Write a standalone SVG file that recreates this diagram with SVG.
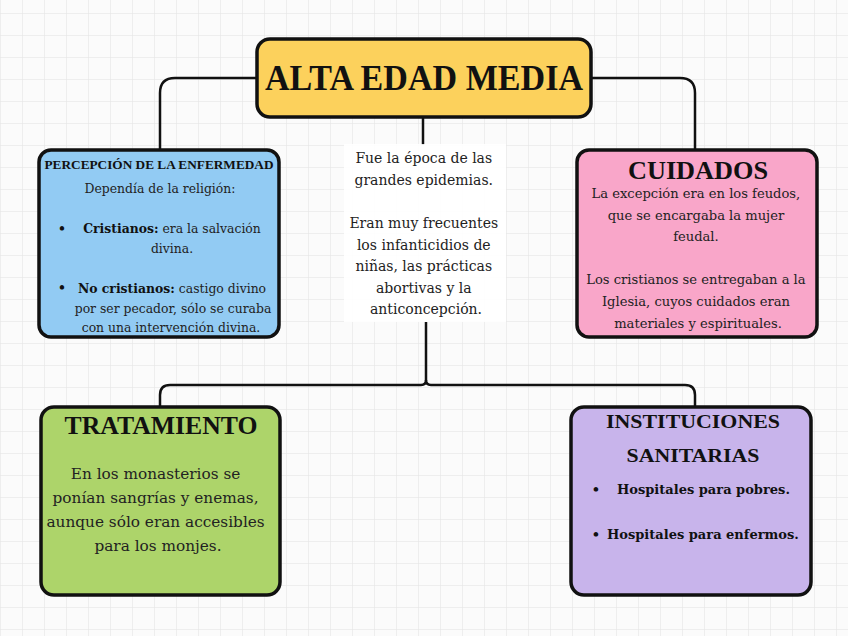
<svg xmlns="http://www.w3.org/2000/svg" width="848" height="636" viewBox="0 0 848 636">
  <defs>
    <pattern id="grid" width="22" height="22" patternUnits="userSpaceOnUse" x="0" y="13">
      <path d="M 22 0 L 0 0 0 22" fill="none" stroke="#e2e2e2" stroke-width="1"/>
    </pattern>
    <style>
      .box { stroke: #111; stroke-width: 3.5; }
      .conn { fill: none; stroke: #111; stroke-width: 2.5; }
      .t { font-family: "DejaVu Serif", "Liberation Serif", serif; fill: #222; text-anchor: middle; }
      .h { font-family: "Liberation Serif", "DejaVu Serif", serif; }
      .b { font-weight: bold; fill: #111; }
    </style>
  </defs>
  <rect x="0" y="0" width="848" height="636" fill="#fbfbfb"/>
  <rect x="0" y="0" width="848" height="636" fill="url(#grid)"/>

  <g id="connectors">
    <path class="conn" d="M 258 78 L 175 78 Q 160 78 160 93 L 160 151"/>
    <path class="conn" d="M 590 78 L 680 78 Q 695 78 695 93 L 695 151"/>
    <path class="conn" d="M 423 117 L 423 145"/>
    <path class="conn" d="M 426 322 L 426 380 Q 426 385 431 385 L 685 385 Q 695 385 695 395 L 695 407"/>
    <path class="conn" d="M 426 380 Q 426 385 421 385 L 170 385 Q 160 385 160 395 L 160 407"/>
  </g>

  <g id="title">
    <rect class="box" x="257" y="39" width="334" height="78" rx="13" fill="#fcd15c"/>
    <text class="t h b" x="424" y="90" font-size="35" textLength="318" lengthAdjust="spacingAndGlyphs">ALTA EDAD MEDIA</text>
  </g>

  <g id="center-note">
    <rect x="344" y="144" width="162" height="178" fill="#ffffff" opacity="0.9"/>
    <text class="t" font-size="14">
      <tspan x="426" y="163">Fue la época de las</tspan>
      <tspan x="426" y="185">grandes epidemias.</tspan>
      <tspan x="426" y="228">Eran muy frecuentes</tspan>
      <tspan x="426" y="250">los infanticidios de</tspan>
      <tspan x="426" y="271">niñas, las prácticas</tspan>
      <tspan x="426" y="293">abortivas y la</tspan>
      <tspan x="426" y="314">anticoncepción.</tspan>
    </text>
  </g>

  <g id="percepcion">
    <rect class="box" x="39" y="150" width="240" height="187" rx="12" fill="#92cbf3"/>
    <text class="t h b" x="159" y="169" font-size="12.5" textLength="229" lengthAdjust="spacingAndGlyphs">PERCEPCIÓN DE LA ENFERMEDAD</text>
    <text class="t" x="160" y="193" font-size="12.4">Dependía de la religión:</text>
    <text class="t b" x="62" y="233" font-size="12.4">•</text>
    <text class="t" x="172" y="233" font-size="12.4"><tspan class="b">Cristianos:</tspan> era la salvación</text>
    <text class="t" x="172" y="253" font-size="12.4">divina.</text>
    <text class="t b" x="62" y="292" font-size="12.4">•</text>
    <text class="t" x="172" y="293" font-size="12.4"><tspan class="b">No cristianos:</tspan> castigo divino</text>
    <text class="t" x="173" y="313" font-size="12.4">por ser pecador, sólo se curaba</text>
    <text class="t" x="171" y="332" font-size="12.4">con una intervención divina.</text>
  </g>

  <g id="cuidados">
    <rect class="box" x="577" y="150" width="240" height="187" rx="12" fill="#f9a6c9"/>
    <text class="t h b" x="698" y="179" font-size="26" textLength="140" lengthAdjust="spacingAndGlyphs">CUIDADOS</text>
    <text class="t" font-size="13.1">
      <tspan x="698" y="198">La excepción era en los feudos,</tspan>
      <tspan x="698" y="220">que se encargaba la mujer</tspan>
      <tspan x="698" y="241">feudal.</tspan>
      <tspan x="698" y="284">Los cristianos se entregaban a la</tspan>
      <tspan x="698" y="306">Iglesia, cuyos cuidados eran</tspan>
      <tspan x="698" y="328">materiales y espirituales.</tspan>
    </text>
  </g>

  <g id="tratamiento">
    <rect class="box" x="41" y="407" width="239" height="188" rx="13" fill="#add46a"/>
    <text class="t h b" x="161" y="434" font-size="25" textLength="193" lengthAdjust="spacingAndGlyphs">TRATAMIENTO</text>
    <text class="t" font-size="15.3">
      <tspan x="158" y="479">En los monasterios se</tspan>
      <tspan x="158" y="503">ponían sangrías y enemas,</tspan>
      <tspan x="158" y="527">aunque sólo eran accesibles</tspan>
      <tspan x="158" y="551">para los monjes.</tspan>
    </text>
  </g>

  <g id="instituciones">
    <rect class="box" x="571" y="407" width="240" height="188" rx="13" fill="#c8b4eb"/>
    <text class="t h b" x="693" y="428" font-size="19.5" textLength="174" lengthAdjust="spacingAndGlyphs">INSTITUCIONES</text>
    <text class="t h b" x="693" y="462" font-size="19.5" textLength="133" lengthAdjust="spacingAndGlyphs">SANITARIAS</text>
    <text class="t b" x="596" y="494" font-size="13">•</text>
    <text class="t b" x="617" y="494" font-size="13" style="text-anchor:start">Hospitales para pobres.</text>
    <text class="t b" x="596" y="539" font-size="13">•</text>
    <text class="t b" x="607" y="539" font-size="13" style="text-anchor:start">Hospitales para enfermos.</text>
  </g>
</svg>
